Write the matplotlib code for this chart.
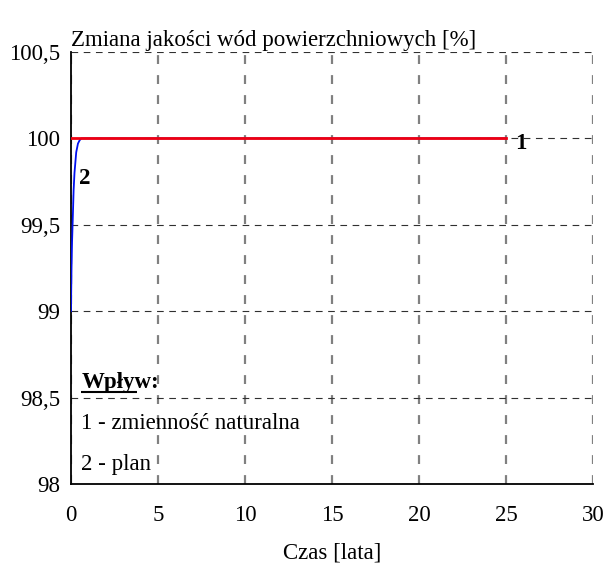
import matplotlib
matplotlib.use("Agg")
import matplotlib.pyplot as plt

# curve 1 - natural variability (flat), curve 2 - plan (fast rise)
t_nat = [0, 25]
q_nat = [100, 100]

t_plan = [0, 0.01, 0.03, 0.06, 0.1, 0.15, 0.2, 0.3, 0.4, 0.5, 0.6, 25]
q_plan = [99.0, 99.1, 99.25, 99.4, 99.53, 99.7, 99.8, 99.92, 99.97, 99.99, 100.0, 100.0]

x_ticks = [0, 5, 10, 15, 20, 25, 30]
y_ticks = [98, 98.5, 99, 99.5, 100, 100.5]
y_labels = ["98", "98,5", "99", "99,5", "100", "100,5"]

plt.rcParams['font.family'] = ['Liberation Serif', 'DejaVu Serif']
plt.rcParams['font.size'] = 16.5

fig = plt.figure(figsize=(6.06, 5.68), dpi=100)
ax = fig.add_axes([71 / 606, 1 - 484 / 568, 522 / 606, 432 / 568])

ax.plot(t_plan, q_plan, color='#0010f0', lw=1.3, zorder=3)
ax.plot(t_nat, q_nat, color='#f00010', lw=2.0, zorder=4)

ax.set_xlim(0, 30)
ax.set_ylim(98, 100.5)
ax.set_xticks(x_ticks)
ax.set_yticks(y_ticks)
ax.set_yticklabels(y_labels)
ax.tick_params(length=0)
ax.tick_params(axis='x', pad=15)
ax.tick_params(axis='y', pad=8)

# vertical grid: gray, thicker; horizontal grid: dark, thin
ax.grid(True, axis='x', color='#808080', linestyle=(0, (4, 5)), lw=1.6)
ax.grid(True, axis='y', color='#303030', linestyle=(0, (6, 5)), lw=0.8)
ax.set_axisbelow(True)
for s in ['top', 'right']:
    ax.spines[s].set_visible(False)
for s in ['left', 'bottom']:
    ax.spines[s].set_linewidth(1.3)

ax.set_title("Zmiana jakości wód powierzchniowych [%]", loc='left', pad=4, fontsize=16.5)
ax.set_xlabel("Czas [lata]", labelpad=12)

ax.text(25.5, 99.97, "1", fontweight='bold', va='center', ha='left', zorder=5)
ax.text(0.45, 99.77, "2", fontweight='bold', va='center', ha='left', zorder=5)

ax.text(0.6, 98.585, "Wpływ:", fontweight='bold', va='center', ha='left')
ax.plot([0.6, 3.8], [98.53, 98.53], color='black', lw=1.5, solid_capstyle='butt')
ax.text(0.6, 98.353, "1 - zmienność naturalna", va='center', ha='left')
ax.text(0.6, 98.11, "2 - plan", va='center', ha='left')

fig.savefig("out.png", dpi=100)
